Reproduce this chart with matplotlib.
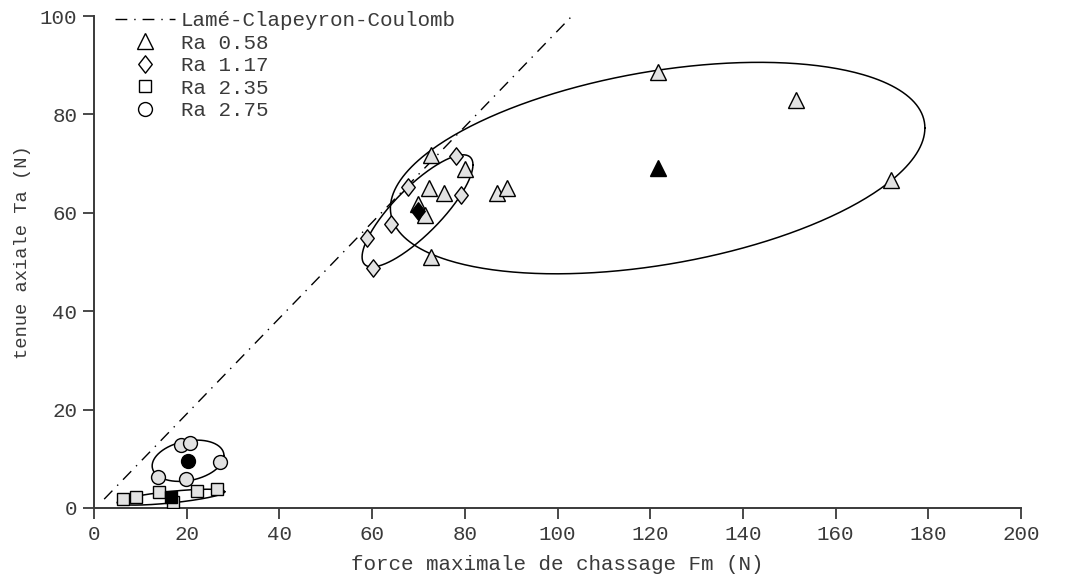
import numpy as np
import matplotlib
matplotlib.use("Agg")
import matplotlib.pyplot as plt
from matplotlib.lines import Line2D
from matplotlib.path import Path

plt.rcParams['font.family'] = ['Liberation Mono', 'DejaVu Sans Mono']
plt.rcParams['font.size'] = 15

# mesures (force de chassage Fm, tenue axiale Ta) par rugosite
ra058_fm = [72.8, 80.0, 72.3, 75.6, 86.9, 89.0, 70.0, 71.4, 72.6, 121.6, 151.5, 172.0]
ra058_ta = [71.7, 69.0, 65.0, 64.1, 64.0, 65.0, 61.8, 59.6, 51.0, 88.6, 82.9, 66.7]
ra117_fm = [78.1, 67.8, 79.2, 64.1, 59.0, 60.3]
ra117_ta = [71.5, 65.2, 63.6, 57.7, 54.9, 48.8]
ra235_fm = [6.3, 9.0, 14.0, 22.2, 26.5, 17.1]
ra235_ta = [1.8, 2.2, 3.2, 3.5, 3.9, 1.3]
ra275_fm = [18.7, 20.7, 13.9, 19.8, 27.2]
ra275_ta = [12.8, 13.3, 6.4, 5.8, 9.4]

# centres des groupes (symboles pleins)
centre_fm = [121.6, 69.8, 16.6, 20.3]
centre_ta = [69.1, 60.4, 2.2, 9.6]

# ellipses : variances / covariance (Fm, Ta)
ell_sxx = [3324.0, 143.0, 134.6, 60.0]
ell_syy = [462.0, 130.0, 2.6, 17.6]
ell_sxy = [470.0, 112.0, 12.8, 8.0]

# droite de Lamé-Clapeyron-Coulomb
lame_fm = [2.2, 103.1]
lame_ta = [1.8, 100.0]

labels = ['Ra 0.58', 'Ra 1.17', 'Ra 2.35', 'Ra 2.75']

# losange un peu plus haut que large
diamond = Path([(0, 1), (0.78, 0), (0, -1), (-0.78, 0), (0, 1)],
               [Path.MOVETO, Path.LINETO, Path.LINETO, Path.LINETO, Path.CLOSEPOLY])
markers = ['^', diamond, 's', 'o']
msizes = [11, 12.5, 8.5, 10]
grey = '#e2e2e2'
ink = '#3a3a3a'
dash = (8.5, 5, 1, 5)

fig = plt.figure(figsize=(10.74, 5.74), dpi=100)
ax = fig.add_axes([0.0875, 0.115, 0.8632, 0.857])

ax.plot(lame_fm, lame_ta, color='black', lw=1, dashes=dash, zorder=2)

t = np.linspace(0, 2 * np.pi, 400)
for i in range(4):
    cov = np.array([[ell_sxx[i], ell_sxy[i]], [ell_sxy[i], ell_syy[i]]])
    L = np.linalg.cholesky(cov)
    pts = L @ np.vstack([np.cos(t), np.sin(t)])
    ax.plot(centre_fm[i] + pts[0], centre_ta[i] + pts[1], color='black', lw=1.1, zorder=2)

groups = [(ra058_fm, ra058_ta), (ra117_fm, ra117_ta), (ra235_fm, ra235_ta), (ra275_fm, ra275_ta)]
for i, (fm, ta) in enumerate(groups):
    ax.plot(fm, ta, ls='none', marker=markers[i], ms=msizes[i], mfc=grey,
            mec='black', mew=1, zorder=3)
    ax.plot(centre_fm[i], centre_ta[i], ls='none', marker=markers[i], ms=msizes[i],
            mfc='black', mec='black', mew=1, zorder=4)

ax.set_xlim(0, 200)
ax.set_ylim(0, 100)
ax.set_xticks(np.arange(0, 201, 20))
ax.set_yticks(np.arange(0, 101, 20))
ax.spines['top'].set_visible(False)
ax.spines['right'].set_visible(False)
for s in ('left', 'bottom'):
    ax.spines[s].set_color(ink)
    ax.spines[s].set_linewidth(1.4)
ax.tick_params(direction='out', length=8, width=1.3, color=ink, labelcolor=ink,
               labelsize=15, pad=4)
ax.set_xlabel('force maximale de chassage Fm (N)', color=ink, fontsize=15, labelpad=8)
ax.set_ylabel('tenue axiale Ta (N)', color=ink, fontsize=13.5, labelpad=10)
ax.yaxis.set_label_coords(-0.068, 0.52)

handles = [Line2D([], [], color='black', lw=1, dashes=dash)]
for i in range(4):
    handles.append(Line2D([], [], ls='none', marker=markers[i], ms=msizes[i],
                          mfc='white', mec='black', mew=1))
ax.legend(handles, ['Lamé-Clapeyron-Coulomb'] + labels, loc='upper left',
          bbox_to_anchor=(0.0227, 1.010), frameon=False, handlelength=2.9,
          handletextpad=0.25, labelspacing=0.17, borderaxespad=0, borderpad=0,
          numpoints=1, labelcolor=ink, fontsize=15)

fig.savefig('out.png', dpi=100)
